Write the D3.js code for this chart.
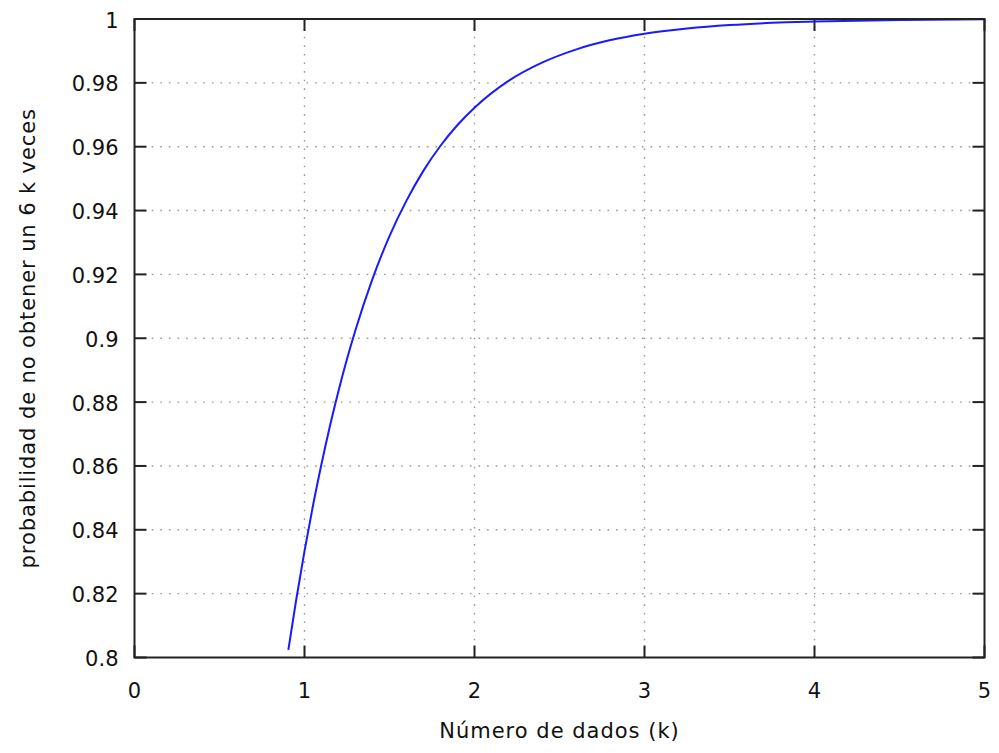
<!DOCTYPE html>
<html><head><meta charset="utf-8">
<script src="https://cdn.jsdelivr.net/npm/d3@7"></script>
<style>
html,body{margin:0;padding:0;background:#fff;}
text{font-family:"DejaVu Sans",sans-serif;fill:#111;}
</style></head>
<body><svg id="chart" width="999" height="753"></svg>
<script>
// Data
const kValues = [0.905,0.95,1.0,1.05,1.1,1.15,1.2,1.25,1.3,1.4,1.5,1.6,1.7,1.8,1.9,2.0,2.2,2.4,2.6,2.8,3.0,3.25,3.5,3.75,4.0,4.5,5.0];
const probValues = [0.8024,0.8177,0.8333,0.8476,0.8606,0.8726,0.8835,0.8935,0.9026,0.9186,0.9320,0.9431,0.9525,0.9603,0.9668,0.9722,0.9806,0.9864,0.9905,0.9934,0.9954,0.9970,0.9981,0.9988,0.9992,0.9997,0.9999];
const xTicks = [0,1,2,3,4,5];
const yTicks = [0.8,0.82,0.84,0.86,0.88,0.9,0.92,0.94,0.96,0.98,1];
const xLabel = "Número de dados (k)";
const yLabel = "probabilidad de no obtener un 6 k veces";

const W = 999, H = 753;
const m = {left:134.5, right:14.5, top:19, bottom:95.5};
const svg = d3.select("#chart");
const x = d3.scaleLinear().domain([0,5]).range([m.left, W-m.right]);
const y = d3.scaleLinear().domain([0.8,1]).range([H-m.bottom, m.top]);

// grid
const grid = svg.append("g").attr("stroke","#999").attr("stroke-width",1.4).attr("stroke-dasharray","1.6,7").attr("fill","none");
xTicks.slice(1,-1).forEach(t=>{
  grid.append("line").attr("x1",x(t)).attr("x2",x(t)).attr("y1",y(0.8)).attr("y2",y(1));
});
yTicks.slice(1,-1).forEach(t=>{
  grid.append("line").attr("y1",y(t)).attr("y2",y(t)).attr("x1",x(0)).attr("x2",x(5));
});

// ticks (inward, mirrored)
const tl = 12;
const tg = svg.append("g").attr("stroke","#222").attr("stroke-width",2);
xTicks.forEach(t=>{
  tg.append("line").attr("x1",x(t)).attr("x2",x(t)).attr("y1",y(0.8)).attr("y2",y(0.8)-tl);
  tg.append("line").attr("x1",x(t)).attr("x2",x(t)).attr("y1",y(1)).attr("y2",y(1)+tl);
});
yTicks.forEach(t=>{
  tg.append("line").attr("y1",y(t)).attr("y2",y(t)).attr("x1",x(0)).attr("x2",x(0)+tl);
  tg.append("line").attr("y1",y(t)).attr("y2",y(t)).attr("x1",x(5)).attr("x2",x(5)-tl);
});

// tick labels
svg.append("g").selectAll("text").data(xTicks).join("text")
  .attr("x",d=>x(d)).attr("y",y(0.8)+40.5).attr("text-anchor","middle")
  .attr("font-size",21).text(d=>d3.format("")(d));
svg.append("g").selectAll("text").data(yTicks).join("text")
  .attr("x",x(0)-16).attr("y",d=>y(d)+8.5).attr("text-anchor","end")
  .attr("font-size",21).text(d=>String(+d.toFixed(2)));

// curve
const line = d3.line().x((d,i)=>x(kValues[i])).y(d=>y(d)).curve(d3.curveMonotoneX);
svg.append("path").datum(probValues).attr("d",line).attr("fill","none")
  .attr("stroke","#1a1aff").attr("stroke-width",2);

// border
svg.append("rect").attr("x",x(0)).attr("y",y(1)).attr("width",x(5)-x(0)).attr("height",y(0.8)-y(1))
  .attr("fill","none").attr("stroke","#222").attr("stroke-width",2);

// axis labels
svg.append("text").attr("x",(x(0)+x(5))/2).attr("y",738).attr("text-anchor","middle")
  .attr("font-size",21).attr("letter-spacing",1.0).text(xLabel);
svg.append("text").attr("transform",`translate(35,${(y(0.8)+y(1))/2}) rotate(-90)`)
  .attr("text-anchor","middle").attr("font-size",21).attr("letter-spacing",0.9).text(yLabel);
</script></body></html>
